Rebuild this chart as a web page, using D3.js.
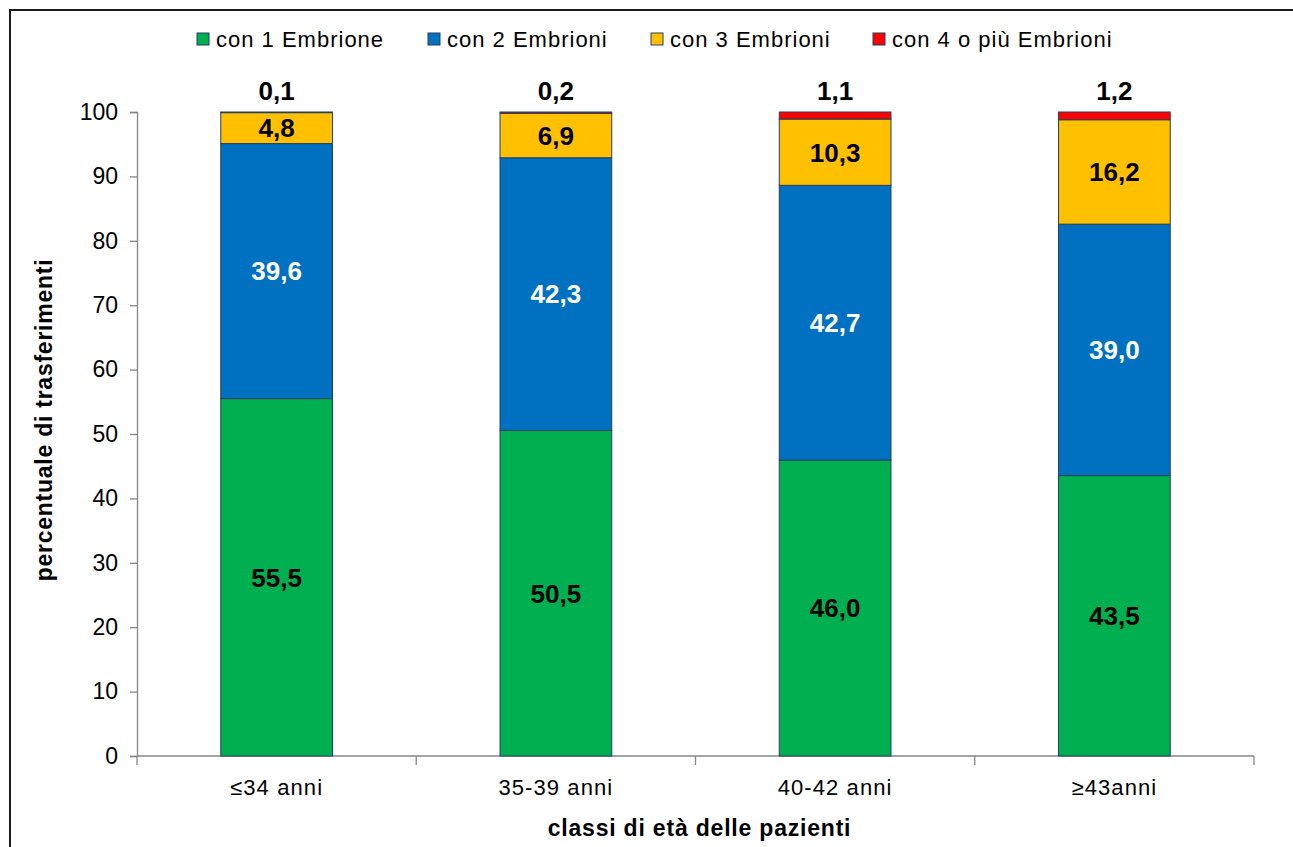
<!DOCTYPE html>
<html>
<head>
<meta charset="utf-8">
<script src="https://cdn.jsdelivr.net/npm/d3@7"></script>
<style>
  html, body { margin: 0; padding: 0; background: #fff; }
  svg { display: block; font-family: "Liberation Sans", Arial, sans-serif; }
</style>
</head>
<body>
<svg id="chart" width="1293" height="847"></svg>
<script>
const categories = ["≤34 anni", "35-39 anni", "40-42 anni", "≥43anni"];
const seriesNames = ["con 1 Embrione", "con 2 Embrioni", "con 3 Embrioni", "con 4 o più Embrioni"];
const emb1 = [55.5, 50.5, 46.0, 43.5];
const emb2 = [39.6, 42.3, 42.7, 39.0];
const emb3 = [4.8, 6.9, 10.3, 16.2];
const emb4 = [0.1, 0.2, 1.1, 1.2];
const yTicks = [0, 10, 20, 30, 40, 50, 60, 70, 80, 90, 100];
const colors = ["#00B050", "#0070C0", "#FFC000", "#FF0000"];
const labelColors = ["#000", "#fff", "#000", "#000"];

const seriesValues = [emb1, emb2, emb3, emb4];
const keys = ["s0", "s1", "s2", "s3"];
const rows = categories.map((c, i) => {
  const r = { cat: c };
  const total = d3.sum(seriesValues, s => s[i]);
  keys.forEach((k, j) => { r[k] = seriesValues[j][i] / total * 100; r["raw" + j] = seriesValues[j][i]; });
  return r;
});
const stacked = d3.stack().keys(keys)(rows);

const svg = d3.select("#chart");
const margin = { left: 137, right: 1254, top: 112, bottom: 756 };

// outer frame (top + left edges visible)
svg.append("path").attr("d", "M10,847 L10,10 L1293,10")
  .attr("fill", "none").attr("stroke", "#1a1a1a").attr("stroke-width", 2);

const x = d3.scaleBand().domain(categories).range([margin.left, margin.right]).padding(0);
const y = d3.scaleLinear().domain([0, 100]).range([margin.bottom, margin.top]);
const barW = x.bandwidth() * 0.4;

// y axis
const yAxis = svg.append("g").attr("transform", `translate(${margin.left},0)`)
  .call(d3.axisLeft(y).tickValues(yTicks).tickSize(7).tickPadding(12).tickFormat(d3.format("d")));
yAxis.select(".domain").attr("stroke", "#868686").attr("stroke-width", 1.3);
yAxis.selectAll(".tick line").attr("stroke", "#868686").attr("stroke-width", 1.3);
yAxis.selectAll(".tick text").attr("font-size", 23).attr("fill", "#000")
  .attr("font-family", "Liberation Sans, Arial, sans-serif");

// x axis
const xAxisG = svg.append("g").attr("transform", `translate(0,${margin.bottom})`);
xAxisG.append("line").attr("x1", margin.left).attr("x2", margin.right)
  .attr("y1", 0).attr("y2", 0).attr("stroke", "#868686").attr("stroke-width", 1.3);
const bounds = categories.map(c => x(c)).concat([margin.right]);
xAxisG.selectAll("line.tk").data(bounds).join("line").attr("class", "tk")
  .attr("x1", d => d).attr("x2", d => d).attr("y1", 0).attr("y2", 9)
  .attr("stroke", "#868686").attr("stroke-width", 1.3);
xAxisG.selectAll("text.cat").data(categories).join("text").attr("class", "cat")
  .attr("x", d => x(d) + x.bandwidth() / 2).attr("y", 39)
  .attr("text-anchor", "middle").attr("font-size", 22).attr("letter-spacing", 1.1)
  .attr("fill", "#000")
  .text(d => d);

// bars
const groups = svg.append("g").selectAll("g").data(stacked).join("g")
  .attr("fill", (d, i) => colors[i]);
groups.selectAll("rect").data(d => d).join("rect")
  .attr("x", d => x(d.data.cat) + (x.bandwidth() - barW) / 2)
  .attr("width", barW)
  .attr("y", d => y(d[1]))
  .attr("height", d => y(d[0]) - y(d[1]))
  .attr("stroke", "#243F60").attr("stroke-width", 1);

// segment labels (series 0-2 inside, series 3 above)
stacked.forEach((s, j) => {
  s.forEach(d => {
    const cx = x(d.data.cat) + x.bandwidth() / 2;
    const txt = d3.format(".1f")(d.data["raw" + j]).replace(".", ",");
    const t = svg.append("text")
      .attr("x", cx)
      .attr("font-size", 26).attr("font-weight", "bold")
      .attr("text-anchor", "middle")
      .attr("fill", labelColors[j])
      .text(txt);
    if (j < 3) {
      t.attr("y", y((d[0] + d[1]) / 2)).attr("dy", "0.36em");
    } else {
      t.attr("y", y(d[1]) - 12);
    }
  });
});

// axis titles
svg.append("text").attr("x", (margin.left + margin.right) / 2 + 4).attr("y", 836)
  .attr("text-anchor", "middle").attr("font-size", 23).attr("font-weight", "bold")
  .attr("letter-spacing", 0.8)
  .text("classi di età delle pazienti");
svg.append("text").attr("transform", "translate(52,420) rotate(-90)")
  .attr("text-anchor", "middle").attr("font-size", 23).attr("font-weight", "bold")
  .attr("letter-spacing", 0.75)
  .text("percentuale di trasferimenti");

// legend
const legendX = [197, 428, 651, 873];
const lg = svg.append("g").selectAll("g").data(seriesNames).join("g")
  .attr("transform", (d, i) => `translate(${legendX[i]},33)`);
lg.append("rect").attr("width", 12).attr("height", 12).attr("y", 0)
  .attr("fill", (d, i) => colors[i]).attr("stroke", "#243F60").attr("stroke-width", 1);
lg.append("text").attr("x", 19).attr("y", 6).attr("dy", "0.36em")
  .attr("font-size", 22).attr("letter-spacing", 1.0).attr("fill", "#000").text(d => d);
</script>
</body>
</html>
